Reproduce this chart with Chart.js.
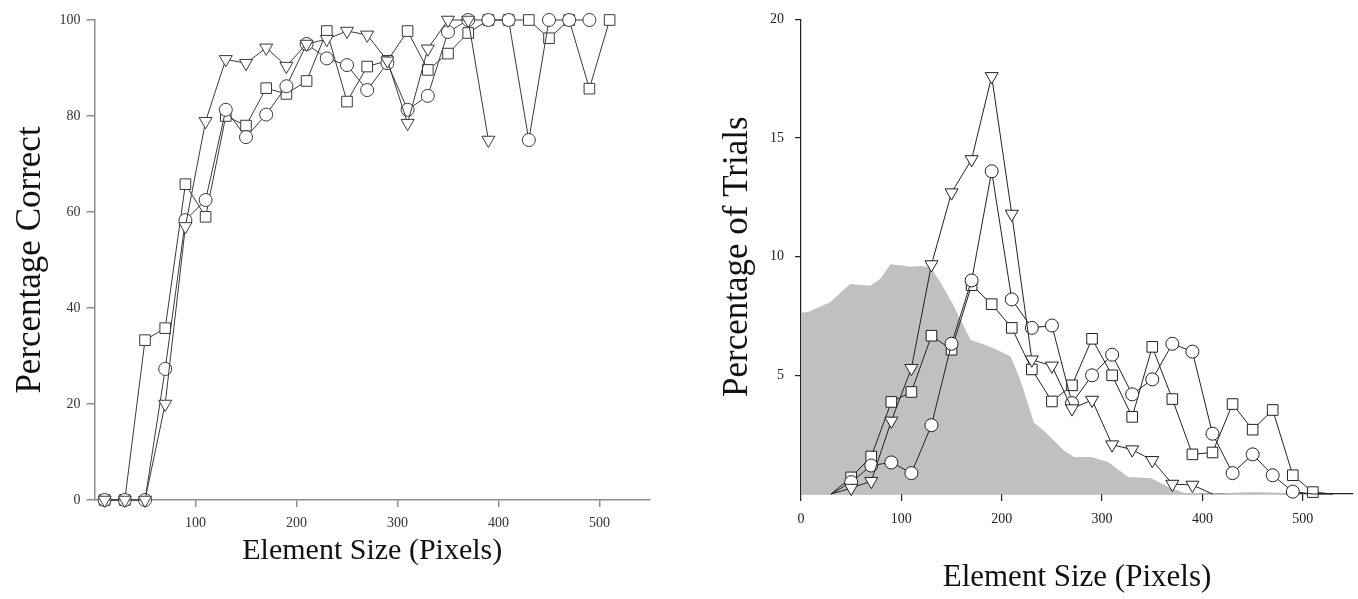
<!DOCTYPE html>
<html>
<head>
<meta charset="utf-8">
<script src="https://cdn.jsdelivr.net/npm/chart.js@4.4.1/dist/chart.umd.min.js"></script>
<style>
  html, body { margin: 0; padding: 0; background: #fff; }
  #wrap { position: relative; width: 1358px; height: 599px; overflow: hidden; }
  .panel { position: absolute; top: 0; height: 599px; }
  #left  { left: 0; width: 680px; }
  #right { left: 680px; width: 678px; }
</style>
</head>
<body>
<div id="wrap">
  <div class="panel" id="left"><canvas id="accChart" width="680" height="599"></canvas></div>
  <div class="panel" id="right"><canvas id="trialChart" width="678" height="599"></canvas></div>
</div>
<script>
// ── DATA ──────────────────────────────────────────
// left panel: percentage correct by element size
const accSizes    = [10, 30, 50, 70, 90, 110, 130, 150, 170, 190, 210, 230, 250, 270, 290, 310, 330, 350, 370, 390, 410, 430, 450, 470, 490, 510];
const accSquare   = [0, 0, 33.3, 35.8, 65.8, 59, 80, 78, 85.8, 84.6, 87.3, 97.7, 83, 90.3, 91.5, 97.7, 89.6, 93, 97.3, 100, 100, 100, 96.2, 100, 85.7, 100];
const accCircle   = [0, 0, 0, 27.3, 58.3, 62.5, 81.3, 75.6, 80.3, 86.2, 95, 92, 90.6, 85.4, 91, 81.3, 84.2, 97.5, 100, 100, 100, 75, 100, 100, 100];
const accTriangle = [0, 0, 0, 20, 57, 78.9, 91.8, 91, 94.2, 90.4, 95, 96, 97.7, 96.9, 91.5, 78.5, 94, 100, 100, 75];
const accXTicks   = [100, 200, 300, 400, 500];
const accYTicks   = [0, 20, 40, 60, 80, 100];

// right panel: percentage of trials by element size
const trialSizes    = [30, 50, 70, 90, 110, 130, 150, 170, 190, 210, 230, 250, 270, 290, 310, 330, 350, 370, 390, 410, 430, 450, 470, 490, 510, 530];
const trialSquare   = [0, 0.7, 1.58, 3.88, 4.3, 6.67, 6.08, 8.8, 8.0, 7.0, 5.25, 3.9, 4.58, 6.54, 5.0, 3.25, 6.2, 4.0, 1.67, 1.75, 3.79, 2.71, 3.54, 0.79, 0.08, 0];
const trialCircle   = [0, 0.5, 1.2, 1.33, 0.88, 2.9, 6.33, 9.0, 13.6, 8.2, 7.0, 7.1, 3.83, 5.0, 5.87, 4.2, 4.83, 6.33, 6.0, 2.54, 0.88, 1.67, 0.79, 0.1, 0, 0];
const trialTriangle = [0, 0.25, 0.54, 3.08, 5.3, 9.67, 12.7, 14.1, 17.6, 11.8, 5.66, 5.4, 3.6, 3.96, 2.08, 1.87, 1.42, 0.42, 0.38, 0];
const shadeSizes    = [0, 7, 29, 49, 69, 79, 89, 99, 109, 119, 129, 139, 152, 169, 179, 192, 209, 219, 232, 242, 262, 272, 289, 306, 326, 349, 366, 382, 420, 450, 470, 500];
const shadeValues   = [7.64, 7.67, 8.08, 8.85, 8.78, 9.06, 9.68, 9.64, 9.58, 9.61, 9.54, 8.92, 7.94, 6.49, 6.35, 6.14, 5.79, 4.75, 3.01, 2.67, 1.83, 1.56, 1.56, 1.35, 0.72, 0.66, 0.3, 0.04, 0.03, 0.08, 0.06, 0];
const trialXTicks   = [0, 100, 200, 300, 400, 500];
const trialYTicks   = [5, 10, 15, 20];

// ── HELPERS ───────────────────────────────────────
const pts = (xs, ys) => ys.map((y, i) => ({ x: xs[i], y }));
const SERIF = 'Liberation Serif, Times New Roman, serif';

const marker = {
  square:   { pointStyle: 'rect', pointRadius: 7.5, pointRotation: 0 },
  circle:   { pointStyle: 'circle', pointRadius: 6.5, pointRotation: 0 },
  triangle: { pointStyle: 'triangle', pointRadius: 7.5, pointRotation: 180 },
};

function series(data, shape, color, hideZero) {
  const m = marker[shape];
  return {
    data,
    showLine: true,
    borderColor: color,
    borderWidth: 1,
    pointBackgroundColor: '#fff',
    pointBorderColor: color,
    pointBorderWidth: 1,
    pointStyle: m.pointStyle,
    pointRotation: m.pointRotation,
    pointRadius: hideZero ? (c => (c.raw && c.raw.y === 0 ? 0 : m.pointRadius)) : m.pointRadius,
    tension: 0,
    clip: false,
    order: 1,
  };
}

const keepTicks = list => scale => {
  scale.ticks = list.map(v => ({ value: v }));
};

function axis(o) {
  return {
    type: 'linear',
    min: o.min, max: o.max,
    afterBuildTicks: keepTicks(o.ticks),
    afterFit: o.fit,
    ticks: { color: o.labelColor, font: { family: SERIF, size: 14 }, padding: o.pad, maxRotation: 0 },
    grid: { drawOnChartArea: false, drawTicks: true, tickLength: o.tick, color: o.lineColor, lineWidth: o.lw },
    border: { display: true, color: o.lineColor, width: o.lw },
    title: { display: true, text: o.title, color: '#111', font: { family: SERIF, size: o.titleSize }, padding: o.titlePad },
  };
}

const common = {
  responsive: false,
  animation: false,
  plugins: { legend: { display: false }, tooltip: { enabled: false } },
};

// ── LEFT: PERCENTAGE CORRECT ──────────────────────
new Chart(document.getElementById('accChart'), {
  type: 'scatter',
  data: {
    datasets: [
      series(pts(accSizes, accTriangle), 'triangle', '#3a3a3a', false),
      series(pts(accSizes, accCircle), 'circle', '#3a3a3a', false),
      series(pts(accSizes, accSquare), 'square', '#3a3a3a', false),
    ]
  },
  options: {
    ...common,
    layout: { padding: { left: 0, top: 20, right: 30, bottom: 0 } },
    scales: {
      x: axis({ min: 0, max: 550, ticks: accXTicks, fit: s => { s.height = 99; }, labelColor: '#333', pad: 8, tick: 7,
                lineColor: '#8c8c8c', lw: 1.5, title: 'Element Size (Pixels)', titleSize: 30, titlePad: { top: 0, bottom: 30 } }),
      y: axis({ min: 0, max: 100, ticks: accYTicks, fit: s => { s.width = 94.5; }, labelColor: '#333', pad: 6, tick: 8,
                lineColor: '#8c8c8c', lw: 1.5, title: 'Percentage Correct', titleSize: 35, titlePad: { top: 10, bottom: 0 } }),
    }
  }
});

// ── RIGHT: PERCENTAGE OF TRIALS ───────────────────
new Chart(document.getElementById('trialChart'), {
  type: 'scatter',
  data: {
    datasets: [
      series(pts(trialSizes, trialTriangle), 'triangle', '#222', true),
      series(pts(trialSizes, trialCircle), 'circle', '#222', true),
      series(pts(trialSizes, trialSquare), 'square', '#222', true),
      {
        type: 'line',
        data: pts(shadeSizes, shadeValues),
        fill: 'origin',
        backgroundColor: '#c0c0c0',
        borderWidth: 0,
        borderColor: 'rgba(0,0,0,0)',
        pointRadius: 0,
        tension: 0,
        order: 10,
      },
    ]
  },
  options: {
    ...common,
    layout: { padding: { left: 0, top: 14, right: 5, bottom: 0 } },
    scales: {
      x: axis({ min: 0, max: 550, ticks: trialXTicks, fit: s => { s.height = 105; }, labelColor: '#222', pad: 10, tick: 7,
                lineColor: '#222', lw: 1.2, title: 'Element Size (Pixels)', titleSize: 31, titlePad: { top: 0, bottom: 3 } }),
      y: axis({ min: 0, max: 20, ticks: trialYTicks, fit: s => { s.width = 121; }, labelColor: '#222', pad: 11, tick: 6,
                lineColor: '#222', lw: 1.2, title: 'Percentage of Trials', titleSize: 35, titlePad: { top: 37, bottom: 0 } }),
    }
  }
});
</script>
</body>
</html>
